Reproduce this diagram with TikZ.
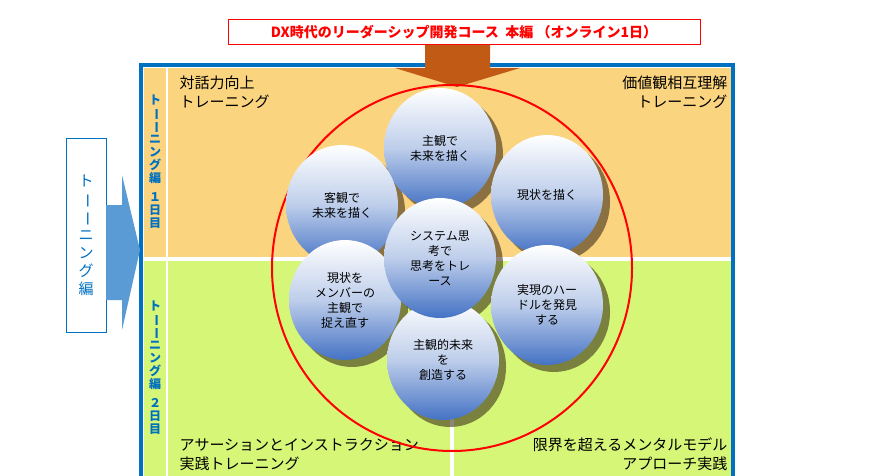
\documentclass[tikz,border=0pt]{standalone}
\usepackage{fontspec}
\setmainfont{Noto Sans CJK JP}
\usetikzlibrary{positioning,arrows,shapes.geometric}

\definecolor{frameblue}{RGB}{0,112,192}
\definecolor{paleorange}{RGB}{251,212,128}
\definecolor{palegreen}{RGB}{214,246,120}
\definecolor{ballblue}{RGB}{68,114,196}
\definecolor{arrowbrown}{RGB}{192,90,20}
\definecolor{arrowblue}{RGB}{91,155,213}
\newcommand{\vbar}{\rotatebox[origin=c]{-90}{ー}}

\begin{document}
\begin{tikzpicture}[x=1pt, y=-1pt,
        ball/.style={ellipse, minimum width=112pt, minimum height=120pt, top color=white, bottom color=ballblue, middle color=ballblue!35, align=center, font=\fontsize{12}{15}\selectfont, inner sep=0pt},
        ballshadow/.style={ellipse, minimum width=112pt, minimum height=120pt, fill=black!75!brown, opacity=.55},
        quad/.style={font=\fontsize{15}{19}\selectfont},
        vlabel/.style={text=frameblue, font=\bfseries\fontsize{12}{13}\selectfont, align=center},
    ]
    \useasboundingbox (0,0) rectangle (872,476);
    % frame and quadrants
    \fill[white] (0,0) rectangle (872,476);
    \fill[frameblue] (139,63) rectangle (735,480);
    \fill[white] (143,67) rectangle (731,480);
    \fill[paleorange] (144,68) rectangle (166,257);
    \fill[palegreen] (144,261) rectangle (166,480);
    \fill[paleorange] (168,68) rectangle (731,257);
    \fill[palegreen] (168,261) rectangle (450,480);
    \fill[palegreen] (454,261) rectangle (731,480);
    \node[quad, anchor=north west, align=left]  (q1) at (176,72)  {対話力向上\\トレーニング};
    \node[quad, anchor=north east, align=right] (q2) at (731,72)  {価値観相互理解\\トレーニング};
    \node[quad, anchor=south west, align=left]  (q3) at (176,474) {アサーションとインストラクション\\実践トレーニング};
    \node[quad, anchor=south east, align=right] (q4) at (731,474) {限界を超えるメンタルモデル\\アプローチ実践};
    \node[vlabel] (day1) at (155,162) {ト\\\vbar\\\vbar\\ニ\\ン\\グ\\編\\[6pt]１\\日\\目};
    \node[vlabel] (day2) at (155,368) {ト\\\vbar\\\vbar\\ニ\\ン\\グ\\編\\[6pt]２\\日\\目};
    % title and arrow
    \node[draw=red, fill=white, minimum width=472pt, minimum height=25pt, text=red, font=\bfseries\fontsize{14}{16}\selectfont] (title) at (464,32) {DX時代のリーダーシップ開発コース\ \ 本編\ （オンライン1日）};
    \fill[arrowbrown] (425,45) -- (490,45) -- (490,68) -- (520,68) -- (457,87) -- (395,68) -- (425,68) -- cycle;
    % left arrow
    \node[draw=frameblue, fill=white, minimum width=40pt, minimum height=194pt, text=frameblue, font=\fontsize{15}{18}\selectfont, align=center] (train) at (86,235) {ト\\\vbar\\\vbar\\ニ\\ン\\グ\\編};
    \fill[arrowblue] (106,205) -- (122,205) -- (122,175) -- (140,250) -- (122,330) -- (122,300) -- (106,300) -- cycle;
    % circle and balls
    \draw[red, line width=2pt] (452,268) ellipse (180pt and 183pt);
    \foreach \px/\py in {342/205, 547/195, 345/300, 547/305, 443/360, 440/148, 440/258}
        \node[ballshadow] at (\px+7,\py+7) {};
    \node[ball] (subj)   at (440,148) {主観で\\未来を描く};
    \node[ball] (obj)    at (342,205) {客観で\\未来を描く};
    \node[ball] (now)    at (547,195) {現状を描く};
    \node[ball] (member) at (345,300) {現状を\\メンバーの\\主観で\\捉え直す};
    \node[ball] (hurdle) at (547,305) {実現のハー\\ドルを発見\\する};
    \node[ball] (create) at (443,360) {主観的未来\\を\\創造する};
    \node[ball] (system) at (440,258) {システム思\\考で\\思考をトレ\\ース};
\end{tikzpicture}
\end{document}
